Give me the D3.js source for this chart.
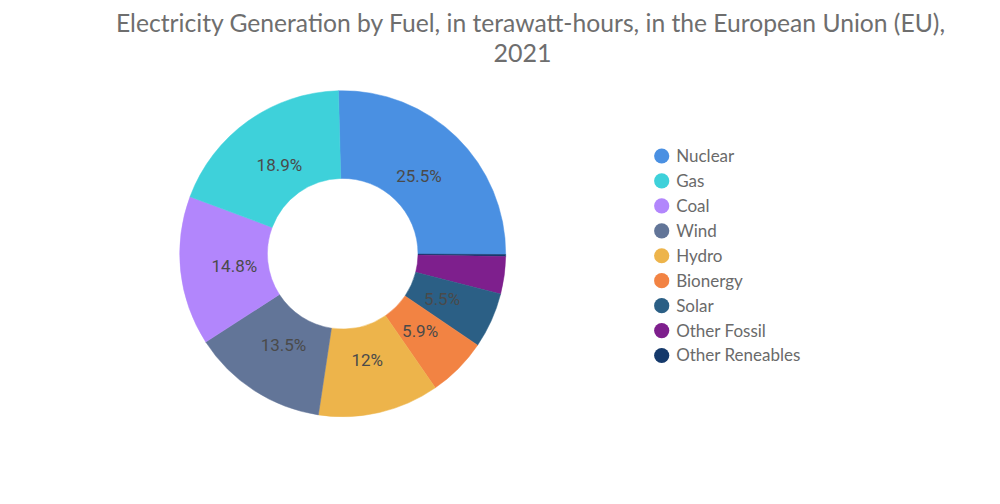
<!DOCTYPE html>
<html><head><meta charset="utf-8">
<script src="https://cdn.jsdelivr.net/npm/d3@7"></script>
<style>body{margin:0;background:#fff;}svg{display:block;}</style>
</head><body>
<svg id="c" width="1000" height="504"></svg>
<script>
const titleLines = ["Electricity Generation by Fuel, in terawatt-hours, in the European Union (EU),", "2021"];
const categories = ["Nuclear","Gas","Coal","Wind","Hydro","Bionergy","Solar","Other Fossil","Other Reneables"];
const values = [25.5, 18.9, 14.8, 13.5, 12, 5.9, 5.5, 3.7, 0.2];
const labels = ["25.5%","18.9%","14.8%","13.5%","12%","5.9%","5.5%","",""];
const colors = ["#4A90E2","#3ED1DA","#B286FC","#627598","#EDB44B","#F28343","#2B5F85","#7E1F8D","#15396B"];
// drawing order clockwise from top
const drawOrder = ["Nuclear","Other Reneables","Other Fossil","Solar","Bionergy","Hydro","Wind","Coal","Gas"];

const svg = d3.select("#c");
const data = categories.map((c,i)=>({name:c,value:values[i],label:labels[i],color:colors[i]}));
const ordered = drawOrder.map(n=>data.find(d=>d.name===n));

const cx = 342.7, cy = 253.7, rOuter = 163, rInner = 75.3, rLabel = 109;
const start = -1.5*Math.PI/180;
const pie = d3.pie().value(d=>d.value).sort(null).startAngle(start).endAngle(start+2*Math.PI);
const arc = d3.arc().innerRadius(rInner).outerRadius(rOuter);
const labelArc = d3.arc().innerRadius(rLabel).outerRadius(rLabel);
const g = svg.append("g").attr("transform",`translate(${cx},${cy})`);
const arcs = pie(ordered);
g.selectAll("path").data(arcs).join("path")
  .attr("d",arc).attr("fill",d=>d.data.color)
  .attr("stroke",d=>d.data.color).attr("stroke-width",0.5);
g.selectAll("text").data(arcs.filter(d=>d.data.label)).join("text")
  .attr("transform",d=>`translate(${labelArc.centroid(d)})`)
  .attr("text-anchor","middle").attr("dy","0.36em")
  .attr("font-family","Roboto, sans-serif").attr("font-size",17)
  .attr("fill","#4a4a4a").text(d=>d.data.label);

// title
svg.append("text").attr("x",116).attr("y",31.5)
  .attr("font-family","Lato, sans-serif").attr("font-size",25).attr("fill","#6e6e6e")
  .attr("textLength",829).attr("lengthAdjust","spacingAndGlyphs").text(titleLines[0]);
svg.append("text").attr("x",522.5).attr("y",62).attr("text-anchor","middle")
  .attr("font-family","Lato, sans-serif").attr("font-size",25).attr("fill","#6e6e6e")
  .text(titleLines[1]);

// legend
const lg = svg.append("g");
const ly = d3.scalePoint().domain(categories).range([156,355.5]);
const items = lg.selectAll("g").data(data).join("g").attr("transform",d=>`translate(661.7,${ly(d.name)})`);
items.append("circle").attr("r",7.6).attr("fill",d=>d.color);
items.append("text").attr("x",14.5).attr("dy","0.35em")
  .attr("font-family","Lato, sans-serif").attr("font-size",17).attr("fill","#6a6a6a")
  .text(d=>d.name);
</script>
</body></html>
